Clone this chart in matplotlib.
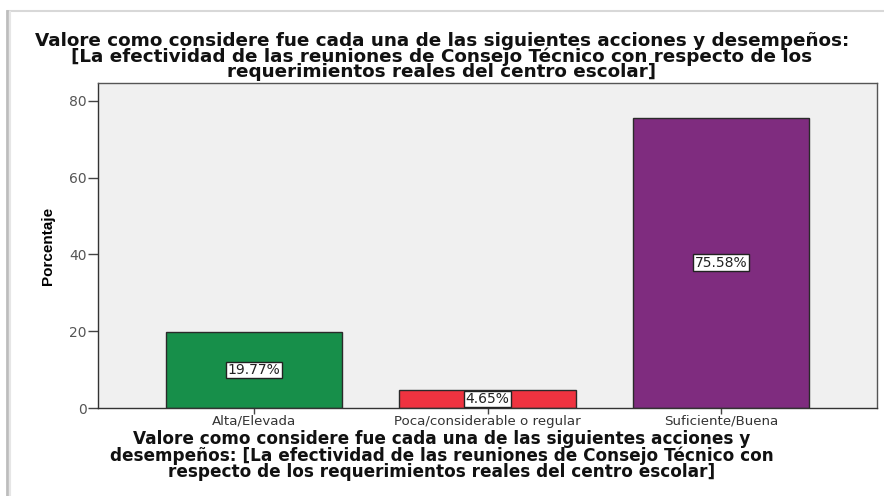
import matplotlib
matplotlib.use("Agg")
import matplotlib.pyplot as plt

categories = ["Alta/Elevada", "Poca/considerable o regular", "Suficiente/Buena"]
values = [19.77, 4.65, 75.58]
colors = ["#178F4A", "#EF3340", "#7F2C7F"]
yticks = [0, 20, 40, 60, 80]

title = ("Valore como considere fue cada una de las siguientes acciones y desempeños:\n"
         "[La efectividad de las reuniones de Consejo Técnico con respecto de los\n"
         "requerimientos reales del centro escolar]")
xlabel = ("Valore como considere fue cada una de las siguientes acciones y\n"
          "desempeños: [La efectividad de las reuniones de Consejo Técnico con\n"
          "respecto de los requerimientos reales del centro escolar]")

plt.rcParams['font.family'] = ['DejaVu Sans']

fig = plt.figure(figsize=(8.84, 4.96), dpi=100)
ax = fig.add_axes([98/884, 1-408/496, (877-98)/884, (408-83)/496])
ax.set_facecolor("#F0F0F0")

x = list(range(len(categories)))
ax.bar(x, values, width=0.754, color=colors, edgecolor="#2a2a2a", linewidth=1.0, zorder=2)
for xi, v in zip(x, values):
    ax.text(xi, v/2, f"{v:.2f}%", ha="center", va="center", fontsize=10, color="#222222",
            bbox=dict(boxstyle="square,pad=0.1", facecolor="white", edgecolor="#222222", linewidth=1.0),
            zorder=3)

ax.set_xlim(-0.668, 2.668)
ax.set_ylim(0, 84.6)
ax.set_xticks(x)
ax.set_xticklabels(categories, fontsize=9.6, color="#333333")
ax.set_yticks(yticks)
ax.set_yticklabels([str(t) for t in yticks], fontsize=10, color="#555555")
ax.tick_params(axis='y', direction='out', length=7, width=1, color="#444444", pad=1)
ax.tick_params(axis='x', direction='out', length=4, width=1, color="#444444", pad=1)
for s in ax.spines.values():
    s.set_color("#555555")
    s.set_linewidth(1.0)
ax.spines['left'].set_color("#333333")
ax.spines['bottom'].set_color("#333333")

ax.set_ylabel("Porcentaje", fontsize=11, fontweight="bold", labelpad=10,
              family=["Liberation Sans Narrow", "Liberation Sans"])
fig.text(0.5, 1-56.5/496, title, ha="center", va="center", fontsize=13.2,
         fontweight="bold", linespacing=0.83, color="#111111")
fig.text(0.5, 1-455.5/496, xlabel, ha="center", va="center", fontsize=12.2,
         fontweight="bold", linespacing=0.86, color="#111111")

# frame lines (top and left border of the outer box)
fig.add_artist(plt.Line2D([8/884, 1.0], [1-11/496, 1-11/496], color="#d8d8d8", linewidth=1.5))
fig.add_artist(plt.Line2D([7/884, 7/884], [0, 1-11/496], color="#bdbdbd", linewidth=2))
fig.add_artist(plt.Line2D([10/884, 10/884], [0, 1-12/496], color="#e6e6e6", linewidth=1.5))

fig.savefig("out.png", dpi=100)
